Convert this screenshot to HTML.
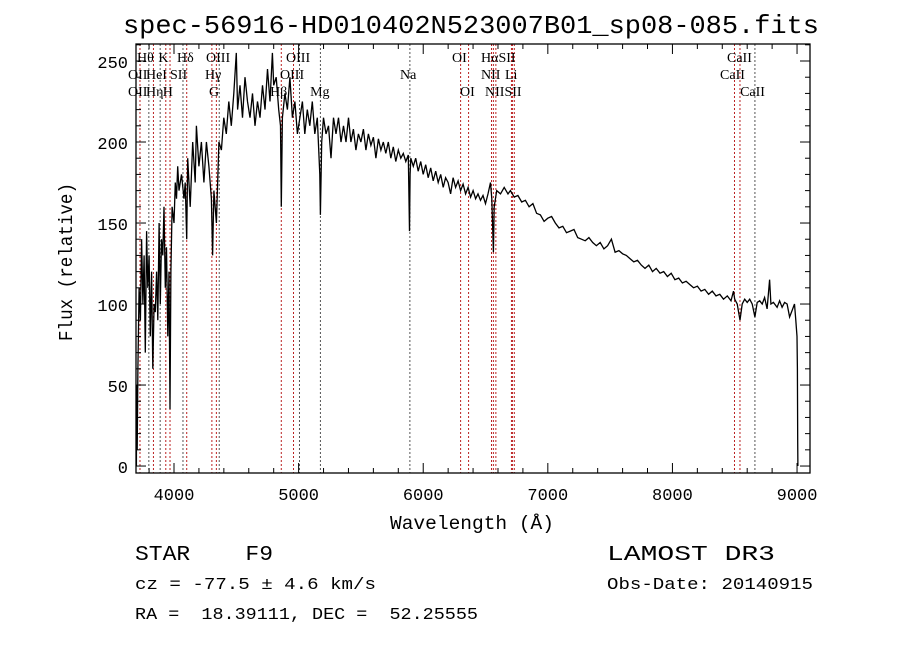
<!DOCTYPE html>
<html><head><meta charset="utf-8"><style>
html,body{margin:0;padding:0;background:#fff;}
svg{display:block;}
text{font-family:"Liberation Mono",monospace;fill:#000;white-space:pre;}
.lbl{font-family:"Liberation Serif",serif;font-size:14px;}
</style></head><body>
<svg id="chart" width="900" height="649" viewBox="0 0 900 649" xmlns="http://www.w3.org/2000/svg" xml:space="preserve">
<rect x="0" y="0" width="900" height="649" fill="#fff"/>
<text x="123" y="33" font-size="26" textLength="696" lengthAdjust="spacingAndGlyphs">spec-56916-HD010402N523007B01_sp08-085.fits</text>
<g id="lines"></g>
<g id="spec"></g>
<g id="axes"></g>
<text x="390" y="529" font-size="19" textLength="164" lengthAdjust="spacingAndGlyphs">Wavelength (Å)</text>
<text transform="translate(72,341) rotate(-90)" font-size="19" textLength="158" lengthAdjust="spacingAndGlyphs">Flux (relative)</text>
<text x="135" y="560" font-size="21" textLength="138" lengthAdjust="spacingAndGlyphs">STAR    F9</text>
<text x="607" y="560" font-size="21" textLength="168" lengthAdjust="spacingAndGlyphs">LAMOST DR3</text>
<text x="135" y="589" font-size="17" textLength="241" lengthAdjust="spacingAndGlyphs">cz = -77.5 ± 4.6 km/s</text>
<text x="607" y="589" font-size="17" textLength="206" lengthAdjust="spacingAndGlyphs">Obs-Date: 20140915</text>
<text x="135" y="619" font-size="17" textLength="343" lengthAdjust="spacingAndGlyphs">RA =  18.39111, DEC =  52.25555</text>
</svg>
<script>
const wl=[3698,3700,3705,3710,3720,3730,3740,3750,3760,3770,3780,3790,3800,3810,3820,3830,3840,3850,3860,3870,3880,3890,3900,3910,3920,3930,3940,3950,3960,3968,3975,3985,4000,4010,4020,4030,4040,4060,4080,4090,4102,4110,4130,4150,4170,4180,4200,4220,4240,4260,4280,4300,4310,4320,4340,4360,4380,4400,4420,4440,4460,4480,4500,4510,4530,4550,4570,4590,4610,4630,4650,4670,4690,4710,4730,4750,4770,4790,4800,4820,4840,4855,4861,4870,4890,4910,4930,4950,4970,4990,5010,5030,5050,5070,5090,5110,5130,5150,5170,5175,5185,5200,5220,5240,5260,5280,5300,5320,5340,5360,5380,5400,5420,5440,5460,5480,5500,5520,5540,5560,5580,5600,5620,5640,5660,5680,5700,5720,5740,5760,5780,5800,5820,5840,5860,5880,5890,5895,5900,5920,5940,5960,5980,6000,6020,6040,6060,6080,6100,6120,6140,6160,6180,6200,6220,6240,6260,6280,6300,6320,6340,6360,6380,6400,6420,6440,6460,6480,6500,6520,6540,6550,6563,6570,6590,6620,6650,6680,6700,6730,6760,6790,6820,6850,6880,6910,6940,6970,7000,7030,7060,7090,7120,7150,7180,7210,7240,7270,7300,7330,7360,7390,7420,7450,7480,7510,7540,7570,7600,7630,7660,7690,7720,7750,7780,7810,7840,7870,7900,7930,7960,7990,8020,8050,8080,8110,8140,8170,8200,8230,8260,8290,8320,8350,8380,8410,8440,8470,8490,8500,8520,8542,8560,8580,8600,8620,8640,8662,8680,8700,8720,8740,8760,8780,8790,8810,8840,8860,8880,8900,8920,8940,8960,8980,8990,8995,9000,9003,9005,9007];
const flux=[0,50,10,60,110,90,140,100,130,70,145,110,130,80,120,60,100,95,120,90,150,100,140,130,160,110,135,80,120,35,120,160,150,175,165,185,170,180,165,175,140,190,160,200,175,210,185,200,175,200,185,165,130,170,150,200,195,215,205,225,210,230,255,220,235,215,240,225,215,230,210,225,215,235,220,245,225,255,235,240,220,210,160,215,230,220,240,215,225,205,215,225,205,220,210,225,205,215,180,155,200,215,205,210,190,215,205,215,200,210,200,215,200,208,195,205,200,208,195,205,198,203,190,202,195,200,193,200,190,197,188,195,190,193,188,192,145,180,190,185,190,182,188,180,186,178,184,176,182,175,180,172,178,175,168,178,172,176,170,174,168,172,166,170,165,168,164,167,162,168,175,165,132,160,170,168,172,168,170,166,167,163,164,160,162,156,155,151,153,154,150,147,148,144,145,146,141,140,139,141,138,136,138,134,136,140,132,133,131,130,128,126,127,124,122,124,120,122,119,120,117,119,115,116,113,114,112,110,111,108,109,106,108,105,106,103,105,102,108,103,100,90,100,103,101,103,100,92,101,102,100,104,97,115,100,101,98,102,98,101,100,92,96,100,90,85,80,60,15,0];
const lineWl=[3727,3798,3835,3889,3934,3968,4072,4102,4304,4340,4363,4861,4959,5007,5175,5893,6300,6364,6548,6563,6583,6708,6716,6731,8498,8542,8662];
const lineColor=['#b22','#555','#b22','#555','#b22','#b22','#555','#b22','#b22','#b22','#555','#b22','#b22','#555','#555','#555','#b22','#b22','#b22','#b22','#b22','#b22','#b22','#b22','#b22','#b22','#555'];
const labels=['Hθ','K','Hδ','OIII','OIII','OI','HαSII','CaII','OII','HeI','SII','Hγ','OIII','Na','NII','Li','CaII','OII','Hη','H','G','Hβ','Mg','OI','NIISII','CaII'];
const labelWl=[3703,3875,4024,4257,4899,6231,6464,8438,3631,3775,3968,4249,4851,5814,6464,6656,8382,3631,3775,3910,4281,4771,5092,6295,6496,8543];
const labelRow=[0,0,0,0,0,0,0,0,1,1,1,1,1,1,1,1,1,2,2,2,2,2,2,2,2,2];
const xTicks=[4000,5000,6000,7000,8000,9000];
const yTicks=[0,50,100,150,200,250];
const X0=136,X1=810,Y0=44,Y1=473;
const W0=3695,W1=9104,F0=-4.3,F1=260.5;
function xs(w){return X0+(w-W0)/(W1-W0)*(X1-X0);}
function ys(f){return Y1-(f-F0)/(F1-F0)*(Y1-Y0);}
const NS='http://www.w3.org/2000/svg';
function mk(tag,attrs,parent){const e=document.createElementNS(NS,tag);for(const k in attrs)e.setAttribute(k,attrs[k]);parent.appendChild(e);return e;}
const gL=document.getElementById('lines');
lineWl.forEach((w,i)=>{const l=mk('line',{x1:xs(w),x2:xs(w),y1:Y0,y2:Y1,stroke:lineColor[i],'stroke-width':1,'stroke-dasharray':'2,2'},gL);

});
labels.forEach((t,i)=>{const e=mk('text',{x:xs(labelWl[i]),y:62+labelRow[i]*17,class:'lbl'},gL);e.textContent=t;

});
const gS=document.getElementById('spec');
let d='';wl.forEach((w,i)=>{d+=(i?'L':'M')+xs(w).toFixed(1)+','+ys(flux[i]).toFixed(1);});
const p=mk('path',{d:d,fill:'none',stroke:'#000','stroke-width':1.3},gS);


const gA=document.getElementById('axes');
const fr=mk('rect',{x:X0,y:Y0,width:X1-X0,height:Y1-Y0,fill:'none',stroke:'#000','stroke-width':1.3},gA);


for(let w=3800;w<=9100;w+=200){const big=w%1000===0;const L=big?10:5;
mk('line',{x1:xs(w),x2:xs(w),y1:Y1,y2:Y1-L,stroke:'#000'},gA);mk('line',{x1:xs(w),x2:xs(w),y1:Y0,y2:Y0+L,stroke:'#000'},gA);}
for(let f=0;f<=260;f+=10){const big=f%50===0;const L=big?10:5;
mk('line',{x1:X0,x2:X0+L,y1:ys(f),y2:ys(f),stroke:'#000'},gA);mk('line',{x1:X1,x2:X1-L,y1:ys(f),y2:ys(f),stroke:'#000'},gA);}
xTicks.forEach(v=>{const t=mk('text',{x:xs(v),y:500,'font-size':17,'text-anchor':'middle','font-family':'Liberation Sans, sans-serif'},gA);t.textContent=v;

});
yTicks.forEach(v=>{const t=mk('text',{x:128,y:ys(v)+7,'font-size':17,'text-anchor':'end','font-family':'Liberation Sans, sans-serif'},gA);t.textContent=v;

});
</script>
</body></html>
